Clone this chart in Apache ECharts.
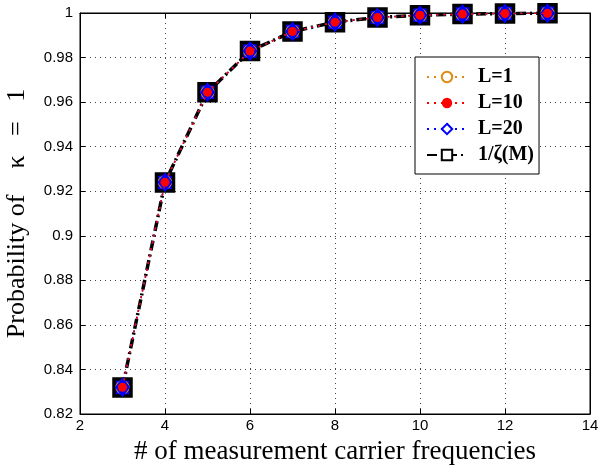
<!DOCTYPE html>
<html>
<head>
<meta charset="utf-8">
<script src="https://cdn.jsdelivr.net/npm/echarts@6/dist/echarts.min.js"></script>
<style>
html, body { margin: 0; padding: 0; background: #fff; }
#main { width: 599px; height: 468px; }
</style>
</head>
<body>
<div id="main"></div>
<script>
var mValues = [3, 4, 5, 6, 7, 8, 9, 10, 11, 12, 13];
var probL1 = [0.832, 0.924, 0.9644, 0.9829, 0.9917, 0.9959, 0.998, 0.999, 0.9995, 0.9998, 0.9999];
var probL10 = [0.832, 0.924, 0.9644, 0.9829, 0.9917, 0.9959, 0.998, 0.999, 0.9995, 0.9998, 0.9999];
var probL20 = [0.832, 0.924, 0.9644, 0.9829, 0.9917, 0.9959, 0.998, 0.999, 0.9995, 0.9998, 0.9999];
var invZeta = [0.8319, 0.9239, 0.9644, 0.9829, 0.9917, 0.9959, 0.998, 0.999, 0.9995, 0.9998, 0.9999];

function pairs(vals) {
	return mValues.map(function (m, i) { return [m, vals[i]]; });
}

var myChart = echarts.init(document.getElementById('main'));

var tickFont = {fontFamily: 'Liberation Sans', fontSize: 15, color: '#000'};

var option = {
	animation: false,
	grid: {
		left: 80,
		right: 9,
		top: 13,
		bottom: 54,
		outerBoundsMode: 'none',
		containLabel: false,
		show: true,
		borderColor: '#000',
		borderWidth: 1
	},
	legend: {
		orient: 'vertical',
		left: 415,
		top: 57,
		backgroundColor: '#fff',
		borderColor: '#000',
		borderWidth: 1,
		padding: [10, 5, 9, 11],
		itemGap: 6,
		itemWidth: 40,
		itemHeight: 13,
		textStyle: {
			fontFamily: 'Liberation Serif',
			fontWeight: 'bold',
			fontSize: 20,
			color: '#000',
			padding: [0, 0, 0, 6]
		},
		data: [
			'L=1',
			'L=10',
			{name: 'L=20', itemStyle: {color: '#fff'}},
			{name: '1/ζ(M)', itemStyle: {color: '#fff'}}
		]
	},
	xAxis: [
		{
			type: 'value',
			min: 2,
			max: 14,
			interval: 2,
			name: '# of measurement carrier frequencies',
			nameLocation: 'middle',
			nameGap: 24,
			nameTextStyle: {fontFamily: 'Liberation Serif', fontSize: 27, color: '#000'},
			axisLine: {lineStyle: {color: '#000'}},
			axisTick: {inside: true, length: 5, lineStyle: {color: '#000'}},
			axisLabel: Object.assign({margin: 4}, tickFont),
			splitLine: {show: true, lineStyle: {color: '#444', type: [1, 4]}}
		},
		{
			type: 'value',
			position: 'top',
			min: 2,
			max: 14,
			interval: 2,
			axisLine: {lineStyle: {color: '#000'}},
			axisTick: {inside: true, length: 5, lineStyle: {color: '#000'}},
			axisLabel: {show: false},
			splitLine: {show: false}
		}
	],
	yAxis: [
		{
			type: 'value',
			min: 0.82,
			max: 1,
			interval: 0.02,
			name: 'Probability of    κ   =   1',
			nameLocation: 'middle',
			nameGap: 50,
			nameTextStyle: {fontFamily: 'Liberation Serif', fontSize: 26, color: '#000'},
			axisLine: {lineStyle: {color: '#000'}},
			axisTick: {inside: true, length: 5, lineStyle: {color: '#000'}},
			axisLabel: Object.assign({
				margin: 7,
				formatter: function (v) { return String(parseFloat(v.toFixed(2))); }
			}, tickFont),
			splitLine: {show: true, lineStyle: {color: '#444', type: [1, 4]}}
		},
		{
			type: 'value',
			position: 'right',
			min: 0.82,
			max: 1,
			interval: 0.02,
			axisLine: {lineStyle: {color: '#000'}},
			axisTick: {inside: true, length: 5, lineStyle: {color: '#000'}},
			axisLabel: {show: false},
			splitLine: {show: false}
		}
	],
	series: [
		{
			name: 'L=1',
			type: 'line',
			z: 3,
			data: pairs(probL1),
			symbol: 'circle',
			symbolSize: 11,
			itemStyle: {color: '#fff', borderColor: '#e08a10', borderWidth: 3},
			lineStyle: {color: '#e08a10', width: 1.5, type: [2, 5]}
		},
		{
			name: 'L=10',
			type: 'line',
			z: 5,
			data: pairs(probL10),
			symbol: 'circle',
			symbolSize: 9,
			itemStyle: {color: '#ff0000', borderColor: '#ff0000', borderWidth: 0},
			lineStyle: {color: '#ff0000', width: 1.5, type: [2, 5]}
		},
		{
			name: 'L=20',
			type: 'line',
			z: 4,
			data: pairs(probL20),
			symbol: 'diamond',
			symbolSize: [12, 16],
			itemStyle: {color: '#0000ff', borderColor: '#0000ff', borderWidth: 2.5},
			lineStyle: {color: '#0000ff', width: 1.5, type: [2, 5]}
		},
		{
			name: '1/ζ(M)',
			type: 'line',
			z: 2,
			data: pairs(invZeta),
			symbol: 'rect',
			symbolSize: 17,
			itemStyle: {color: '#0000ff', borderColor: '#000', borderWidth: 3.5},
			lineStyle: {color: '#000', width: 3.5, type: [10, 4, 2, 4]}
		}
	]
};

myChart.setOption(option);
</script>
</body>
</html>
